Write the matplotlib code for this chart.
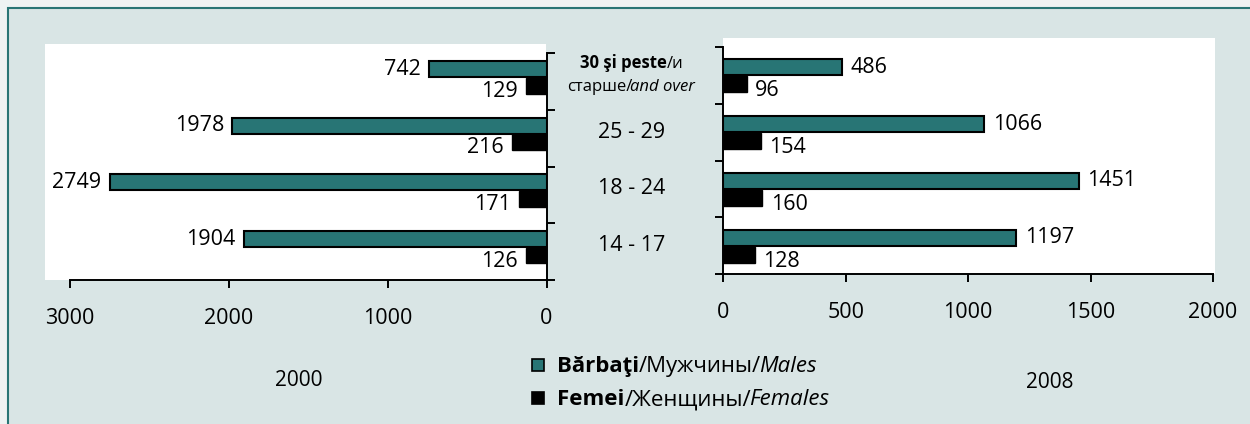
import matplotlib.pyplot as plt
from matplotlib.patches import Rectangle
from matplotlib.transforms import blended_transform_factory, ScaledTranslation, IdentityTransform

plt.rcParams['font.family'] = ['Open Sans', 'DejaVu Sans']

# ---------------------------
# Data
# ---------------------------
age_groups = ["30+", "25 - 29", "18 - 24", "14 - 17"]   # top to bottom
males_2000 = [742, 1978, 2749, 1904]
females_2000 = [129, 216, 171, 126]
males_2008 = [486, 1066, 1451, 1197]
females_2008 = [96, 154, 160, 128]
ticks_2000 = [3000, 2000, 1000, 0]
ticks_2008 = [0, 500, 1000, 1500, 2000]

TEAL = "#287575"
BG = "#d9e5e5"
W, H = 1250, 424
DPI = 100

fig = plt.figure(figsize=(W / DPI, H / DPI), dpi=DPI)
fig.patch.set_facecolor("#eef3f3")


def fbox(x0, y0, x1, y1):
    # pixel box (top-left origin) -> figure fraction rect
    return [x0 / W, 1 - y1 / H, (x1 - x0) / W, (y1 - y0) / H]


# frame of the panel
fig.add_artist(Rectangle((8 / W, -0.1), (W + 20) / W, 1 - 8 / H + 0.1,
                         transform=fig.transFigure, facecolor=BG,
                         edgecolor=TEAL, linewidth=1.5, zorder=-2))
# white plot areas
for x0, y0, x1, y1 in [(45, 44, 546, 280), (723, 37.5, 1215, 274.3)]:
    r = fbox(x0, y0, x1, y1)
    fig.add_artist(Rectangle((r[0], r[1]), r[2], r[3], transform=fig.transFigure,
                             facecolor="white", edgecolor="none", zorder=-1))

ax1 = fig.add_axes(fbox(70, 53.3, 546.5, 279.8))
ax2 = fig.add_axes(fbox(723.3, 46.7, 1213, 274.3))

ypos = list(range(len(age_groups)))
bar_h = 0.28

# ---------------------------
# Left panel: 2000
# ---------------------------
ax1.barh([y - 0.22 for y in ypos], males_2000, height=bar_h, color=TEAL,
         edgecolor="black", linewidth=1.5, zorder=3)
ax1.barh([y + 0.07 for y in ypos], females_2000, height=bar_h, color="black",
         edgecolor="black", linewidth=1.0, zorder=3)
for y, m, f in zip(ypos, males_2000, females_2000):
    ax1.annotate(str(m), (m, y - 0.22), xytext=(-6, 0), textcoords="offset points",
                 ha="right", va="center", fontsize=15.5)
    ax1.annotate(str(f), (f, y + 0.07), xytext=(-6, -4), textcoords="offset points",
                 ha="right", va="center", fontsize=15.5)
ax1.set_xlim(3000, 0)
ax1.set_xticks(ticks_2000)
ax1.yaxis.tick_right()

# ---------------------------
# Right panel: 2008
# ---------------------------
ax2.barh([y - 0.14 for y in ypos], males_2008, height=bar_h, color=TEAL,
         edgecolor="black", linewidth=1.5, zorder=3)
ax2.barh([y + 0.155 for y in ypos], females_2008, height=bar_h, color="black",
         edgecolor="black", linewidth=1.0, zorder=3)
for y, m, f in zip(ypos, males_2008, females_2008):
    ax2.annotate(str(m), (m, y - 0.14), xytext=(6, 0), textcoords="offset points",
                 ha="left", va="center", fontsize=15.5)
    ax2.annotate(str(f), (f, y + 0.155), xytext=(6, -5), textcoords="offset points",
                 ha="left", va="center", fontsize=15.5)
ax2.set_xlim(0, 2000)
ax2.set_xticks(ticks_2008)

for ax, side in [(ax1, "right"), (ax2, "left")]:
    ax.set_facecolor("none")
    ax.set_ylim(len(age_groups) - 0.5, -0.5)
    ax.set_yticks([i - 0.5 for i in range(len(age_groups) + 1)])
    ax.set_yticklabels([])
    for s in ["top", "left", "right"]:
        ax.spines[s].set_visible(s == side)
    for s in ["bottom", side]:
        ax.spines[s].set_linewidth(1.4)
    ax.tick_params(axis="both", direction="out", length=6, width=1.4,
                   labelsize=15.5, pad=14)

# ---------------------------
# Category labels between panels
# ---------------------------
tr = blended_transform_factory(fig.transFigure, ax2.transData)
xc = 632 / W
for i, lab in enumerate(age_groups[1:], start=1):
    fig.text(xc, i, lab, transform=tr, ha="center", va="center", fontsize=15.5)

renderer = fig.canvas.get_renderer()
ident = blended_transform_factory(IdentityTransform(), fig.transFigure)


def rich_text(x_px, y_frac, parts, size, center=True):
    # draw a row of differently styled texts, centered or left aligned at x_px
    texts = []
    for s, wt, st in parts:
        texts.append(fig.text(0, y_frac, s, fontsize=size, fontweight=wt,
                              style=st, va="baseline", transform=ident))
    widths = [t.get_window_extent(renderer).width for t in texts]
    x = x_px - (sum(widths) / 2 if center else 0)
    for t, w, (s, wt, st) in zip(texts, widths, parts):
        if st == "italic":
            x -= 2
        t.set_transform(ident + ScaledTranslation(x / DPI, 0, fig.dpi_scale_trans))
        x += w


rich_text(632, 1 - 68 / H, [("30 şi peste", "bold", "normal"), ("/и", "normal", "normal")], 12)
rich_text(632, 1 - 91 / H, [("старше/", "normal", "normal"), ("and over", "normal", "italic")], 12)

# ---------------------------
# Year labels and legend
# ---------------------------
fig.text(299 / W, 1 - 381 / H, "2000", ha="center", va="center", fontsize=15)
fig.text(1050 / W, 1 - 383 / H, "2008", ha="center", va="center", fontsize=15)

for (y0, col) in [(359, TEAL), (392, "black")]:
    r = fbox(532, y0, 544, y0 + 12)
    fig.add_artist(Rectangle((r[0], r[1]), r[2], r[3], transform=fig.transFigure,
                             facecolor=col, edgecolor="black", linewidth=1.2))
rich_text(557, 1 - 372 / H, [("Bărbaţi", "bold", "normal"), ("/Мужчины/", "normal", "normal"),
                             ("Males", "normal", "italic")], 16, center=False)
rich_text(557, 1 - 405 / H, [("Femei", "bold", "normal"), ("/Женщины/", "normal", "normal"),
                             ("Females", "normal", "italic")], 16, center=False)

fig.savefig("out.png", dpi=DPI, facecolor=fig.get_facecolor())
